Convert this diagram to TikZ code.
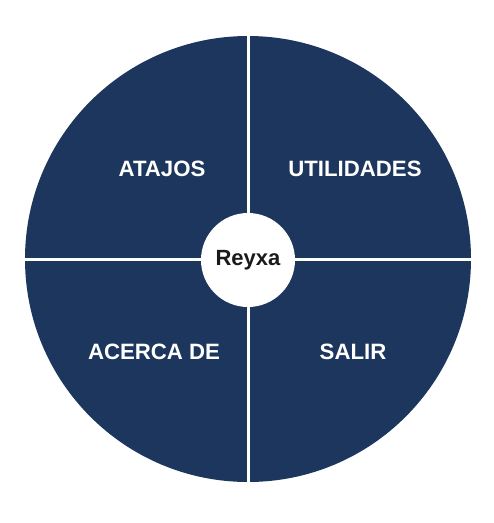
\documentclass[tikz,border=0pt]{standalone}
\usepackage{fontspec}
\setmainfont{Liberation Sans}
\definecolor{navy}{RGB}{28,54,94}
\definecolor{ink}{RGB}{26,26,26}
\begin{document}
\begin{tikzpicture}[x=1pt,y=-1pt,
  lbl/.style={font=\fontsize{22.2}{26}\selectfont\bfseries, text=white, inner sep=0pt},
  divider/.style={draw=white, line width=3pt}]
\useasboundingbox[fill=white] (0,0) rectangle (494,523);
\node[circle, fill=navy, minimum size=446pt, inner sep=0pt] (disc) at (248,259) {};
\coordinate (top) at ([yshift=2pt]disc.north);
\coordinate (bot) at ([yshift=-3pt]disc.south);
\coordinate (lft) at ([xshift=-3pt]disc.west);
\coordinate (rgt) at ([xshift=2pt]disc.east);
\draw[divider] (top) -- (bot);
\draw[divider] (lft) -- (rgt);
\node[circle, fill=white, minimum size=94pt, inner sep=0pt, font=\fontsize{22}{26}\selectfont\bfseries, text=ink] (hub) at (248,260) {Reyxa};
\node[lbl] (atajos) at (162,169) {ATAJOS};
\node[lbl] (util) at (355,169) {UTILIDADES};
\node[lbl] (acerca) at (154,352) {ACERCA DE};
\node[lbl] (salir) at (353,352) {SALIR};
\end{tikzpicture}
\end{document}
